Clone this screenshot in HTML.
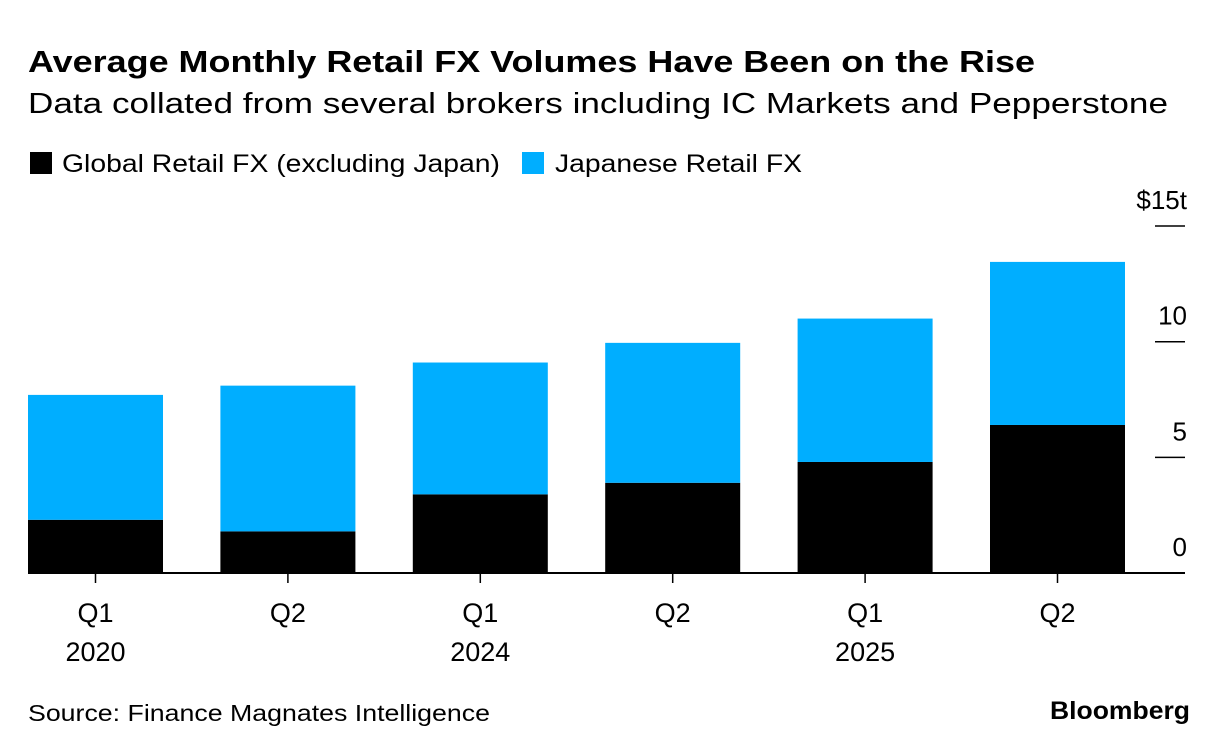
<!DOCTYPE html>
<html><head><meta charset="utf-8"><style>
body{margin:0;background:#fff;font-family:"Liberation Sans",Arial,sans-serif;}
svg{display:block}
</style></head><body>
<svg width="1230" height="754" xmlns="http://www.w3.org/2000/svg" font-family="Liberation Sans, Arial, sans-serif">
<text x="28" y="72" font-size="31" font-weight="bold" fill="#000" textLength="1007" lengthAdjust="spacingAndGlyphs">Average Monthly Retail FX Volumes Have Been on the Rise</text>
<text x="28" y="113" font-size="29" fill="#000" textLength="1140" lengthAdjust="spacingAndGlyphs">Data collated from several brokers including IC Markets and Pepperstone</text>
<g>
<rect x="30" y="152" width="22" height="22" fill="#000"/>
<text x="62" y="172" font-size="25" textLength="438" lengthAdjust="spacingAndGlyphs">Global Retail FX (excluding Japan)</text>
<rect x="522" y="152" width="22" height="22" fill="#00aeff"/>
<text x="555" y="172" font-size="25" textLength="247" lengthAdjust="spacingAndGlyphs">Japanese Retail FX</text>
</g>
<g id="plot"></g>
<text x="28" y="721" font-size="23" textLength="462" lengthAdjust="spacingAndGlyphs">Source: Finance Magnates Intelligence</text>
<text x="1190" y="719" font-size="25" font-weight="bold" text-anchor="end" textLength="140" lengthAdjust="spacingAndGlyphs">Bloomberg</text>
</svg>
<script>
const quarters=["Q1","Q2","Q1","Q2","Q1","Q2"];
const years=["2020","","2024","","2025",""];
const globalFX=[2.3,1.8,3.4,3.9,4.8,6.4];
const japanFX=[5.4,6.3,5.7,6.05,6.2,7.05];
const yTicks=[0,5,10,15];
const yTickLabels=["0","5","10","$15t"];
const ns="http://www.w3.org/2000/svg";
const g=document.getElementById("plot");
const y0=573,pxPer=23.13,x0=28,step=192.4,bw=135;
const yS=v=>y0-v*pxPer;
const xS=i=>x0+i*step;
function el(t,a){const e=document.createElementNS(ns,t);for(const k in a)e.setAttribute(k,a[k]);g.appendChild(e);return e;}
yTicks.forEach((t,i)=>{
 if(t>0){const l=el("line",{x1:1155,x2:1185,y1:yS(t),y2:yS(t),stroke:"#000","stroke-width":1.5});
 
 }
 const tx=el("text",{x:1187,y:yS(t)-17,"font-size":26,"text-anchor":"end"});
 tx.textContent=yTickLabels[i];
 
 
});
quarters.forEach((q,i)=>{
 const x=xS(i);
 const b=el("rect",{x:x,y:yS(globalFX[i]),width:bw,height:globalFX[i]*pxPer,fill:"#000"});
 
 
 const j=el("rect",{x:x,y:yS(globalFX[i]+japanFX[i]),width:bw,height:japanFX[i]*pxPer,fill:"#00aeff"});
 
 
 const tk=el("line",{x1:x+bw/2,x2:x+bw/2,y1:y0,y2:y0+10,stroke:"#000","stroke-width":1.5});
 
 
 const t=el("text",{x:x+bw/2,y:622,"font-size":27,"text-anchor":"middle"});
 t.textContent=q;
 
 
 if(years[i]){const yt=el("text",{x:x+bw/2,y:661,"font-size":27,"text-anchor":"middle"});
 yt.textContent=years[i];
 
 }
});
const base=el("line",{x1:28,x2:1185,y1:y0,y2:y0,stroke:"#000","stroke-width":2});


</script>
</body></html>
